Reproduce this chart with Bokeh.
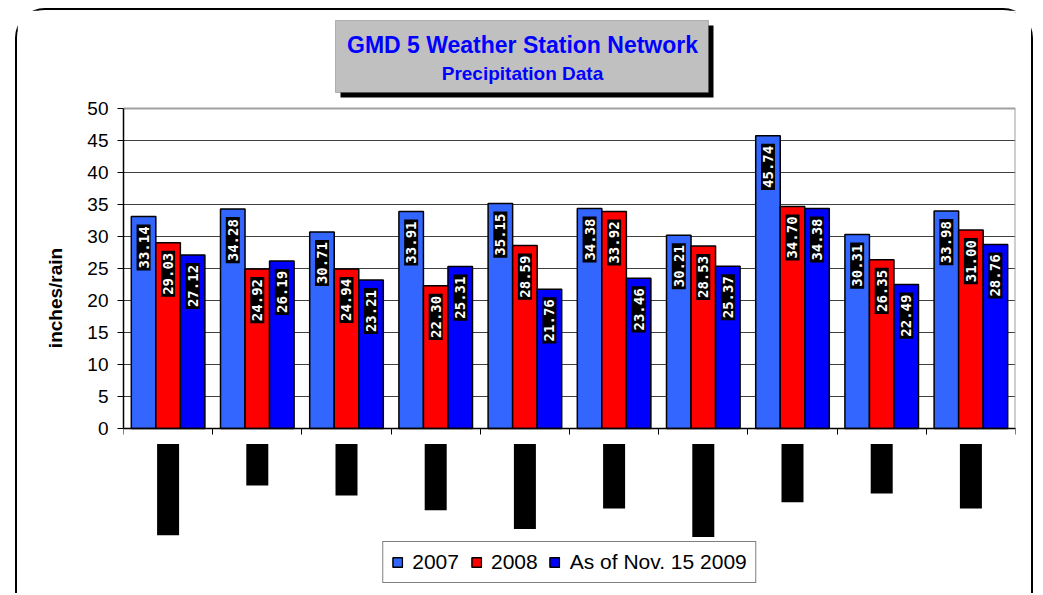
import numpy as np
from bokeh.plotting import figure
from bokeh.models import (ColumnDataSource, LabelSet, Label, BoxAnnotation, Legend,
                          LegendItem, FixedTicker, Range1d)
from bokeh.core.properties import value
from bokeh.embed import file_html
from bokeh.resources import INLINE

# ---- data ----
stations = ["Great Bend", "Pratt", "Lyons", "Stafford", "Macksville",
            "Hudson", "Hutchinson", "Larned", "Byers", "Preston"]
y2007 = [33.14, 34.28, 30.71, 33.91, 35.15, 34.38, 30.21, 45.74, 30.31, 33.98]
y2008 = [29.03, 24.92, 24.94, 22.30, 28.59, 33.92, 28.53, 34.70, 26.35, 31.00]
y2009 = [27.12, 26.19, 23.21, 25.31, 21.76, 23.46, 25.37, 34.38, 22.49, 28.76]
series_names = ["2007", "2008", "As of Nov. 15 2009"]
yticks = [0, 5, 10, 15, 20, 25, 30, 35, 40, 45, 50]
title_main = "GMD 5 Weather Station Network"
title_sub = "Precipitation Data"

colors = ["#3366ff", "#ff0000", "#0000ff"]
FONT_NAME = "Liberation Sans"
FONT = value(FONT_NAME)
MONO = value("DejaVu Sans Mono")

n = len(stations)
ymax_axis = yticks[-1]

# layout geometry (page pixels) -> the frame extends above/below the value axis
PX_PER_UNIT = 6.4          # 50 units over 320 px
ZERO_PX = 428              # page y of value 0
FRAME_TOP_PX = 12
FRAME_BOT_PX = 583
X0_PX = 123
PX_PER_CAT = 89.2


def ypx(py):
    return (ZERO_PX - py) / PX_PER_UNIT


def xpx(px):
    return (px - X0_PX) / PX_PER_CAT


p = figure(width=1018, height=585, x_range=Range1d(0, n),
           y_range=Range1d(ypx(FRAME_BOT_PX), ypx(FRAME_TOP_PX)),
           output_backend="svg", toolbar_location=None,
           min_border_left=106, min_border_right=20, min_border_top=2,
           min_border_bottom=12)
p.styles = {"margin-left": "15px", "margin-top": "8px", "border": "2px solid black",
            "border-bottom": "none", "border-radius": "30px 30px 0 0"}
p.background_fill_color = "white"
p.border_fill_color = "white"
p.outline_line_color = None

centers = np.arange(n) + 0.5
bw = 0.275
offsets = [-bw, 0.0, bw]
series = [y2007, y2008, y2009]

# plot-area border (top and right, gray)
p.segment(x0=[0, n], y0=[ymax_axis, 0], x1=[n, n], y1=[ymax_axis, ymax_axis],
          line_color="#a0a0a0", line_width=2)

renderers = []
for vals, off, col, name in zip(series, offsets, colors, series_names):
    src = ColumnDataSource(dict(x=centers + off, top=vals,
                                lbl=["%.2f" % v for v in vals]))
    r = p.vbar(x="x", top="top", bottom=0, width=bw, source=src, fill_color=col,
               line_color="black", line_width=1.5)
    renderers.append((name, r))
    ls = LabelSet(x="x", y="top", text="lbl", source=src, angle=np.pi / 2,
                  text_align="right", text_baseline="middle", y_offset=-10,
                  text_color="white", text_font=MONO, text_font_style="bold",
                  text_font_size="14px", background_fill_color="black",
                  border_line_color="black", border_line_width=4,
                  border_line_join="miter")
    p.add_layout(ls)

# category labels (shown as black blocks, as in the reference)
st_src = ColumnDataSource(dict(x=centers, y=[0] * n, t=stations))
p.add_layout(LabelSet(x="x", y="y", text="t", source=st_src, angle=np.pi / 2,
                      text_align="right", text_baseline="middle", y_offset=-18,
                      text_color="black", text_font=FONT, text_font_style="bold",
                      text_font_size="16px", background_fill_color="black",
                      border_line_color="black", border_line_width=5,
                      border_line_join="miter"))

# axes
p.xaxis.fixed_location = 0
p.xaxis.ticker = FixedTicker(ticks=list(range(n + 1)))
p.xaxis.major_label_overrides = {i: "" for i in range(n + 1)}
p.xaxis.major_label_text_font_size = "0px"
p.xaxis.major_tick_out = 6
p.xaxis.major_tick_in = 0
p.xaxis.major_tick_line_color = "black"
p.xaxis.minor_tick_line_color = None
p.xaxis.axis_line_color = "black"
p.xaxis.axis_line_width = 1.5
p.xgrid.visible = False

p.yaxis.bounds = (0, ymax_axis)
p.yaxis.ticker = FixedTicker(ticks=yticks)
p.yaxis.major_tick_out = 6
p.yaxis.major_tick_in = 0
p.yaxis.major_tick_line_color = "black"
p.yaxis.minor_tick_line_color = None
p.yaxis.axis_line_color = "black"
p.yaxis.axis_line_width = 1.5
p.yaxis.major_label_text_font = FONT_NAME
p.yaxis.major_label_text_font_size = "19px"
p.yaxis.major_label_text_color = "black"
p.yaxis.major_label_standoff = 9
p.yaxis.axis_label = "inches/rain"
p.yaxis.axis_label_text_font = FONT_NAME
p.yaxis.axis_label_text_font_style = "bold"
p.yaxis.axis_label_text_font_size = "19px"
p.yaxis.axis_label_text_color = "black"
p.yaxis.axis_label_standoff = 18
p.ygrid.ticker = FixedTicker(ticks=yticks[:-1])
p.ygrid.grid_line_color = "#404040"
p.ygrid.grid_line_width = 1

# title box with shadow
SH = 5
p.add_layout(BoxAnnotation(left=xpx(335 + SH), right=xpx(708 + SH),
                           top=ypx(20 + SH), bottom=ypx(92 + SH),
                           fill_color="black", fill_alpha=1, line_color=None))
p.add_layout(BoxAnnotation(left=xpx(335), right=xpx(708), top=ypx(20), bottom=ypx(92),
                           fill_color="#c0c0c0", fill_alpha=1,
                           line_color="#404040", line_width=1))
p.add_layout(Label(x=xpx(522), y=ypx(44), text=title_main,
                   text_align="center", text_baseline="middle", text_font=FONT_NAME,
                   text_font_style="bold", text_font_size="23px", text_color="#0000ff"))
p.add_layout(Label(x=xpx(522), y=ypx(73), text=title_sub,
                   text_align="center", text_baseline="middle", text_font=FONT_NAME,
                   text_font_style="bold", text_font_size="19px", text_color="#0000ff"))

# legend
legend = Legend(items=[LegendItem(label=nm, renderers=[r]) for nm, r in renderers],
                orientation="horizontal", location="bottom_center",
                label_text_font=FONT_NAME, label_text_font_size="21px",
                label_text_color="black",
                glyph_width=12, glyph_height=12, label_standoff=9, spacing=11,
                padding=8, margin=0, border_line_color="black", border_line_width=1.5,
                background_fill_color="white", background_fill_alpha=1)
p.add_layout(legend)

open("out.html", "w").write(file_html(p, INLINE))
